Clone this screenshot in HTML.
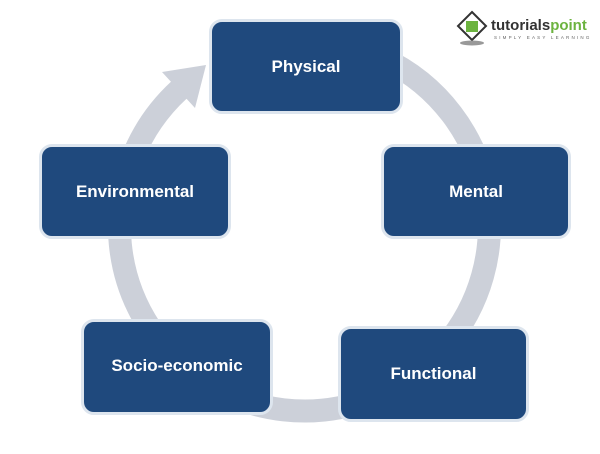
<!DOCTYPE html>
<html><head><style>
body{margin:0;background:#fff;width:600px;height:454px;overflow:hidden;position:relative;font-family:"Liberation Sans",sans-serif}
.b{position:absolute;background:#1f497d;border:3px solid #dde5ee;border-radius:13px;color:#fff;font-weight:bold;font-size:17px;display:flex;align-items:center;justify-content:center;box-sizing:border-box}
</style></head><body>
<svg width="600" height="454" style="position:absolute;left:0;top:0">
<path d="M 304 41 A 185 185 0 1 1 179 90" fill="none" stroke="#ccd0d9" stroke-width="23"/>
<polygon points="206,65 195,108 162,72" fill="#ccd0d9"/>
<g transform="translate(458,12)">
<polygon points="14,0 28,14 14,28 0,14" fill="#fff" stroke="#333" stroke-width="2"/>
<rect x="8" y="9" width="12" height="11" fill="#6cb33f"/>
<ellipse cx="14" cy="31" rx="12" ry="2.5" fill="#999"/>
<text x="33" y="18" font-family="Liberation Sans,sans-serif" font-weight="bold" font-size="15" fill="#333">tutorials<tspan fill="#6cb33f">point</tspan></text>
<text x="36" y="27" font-family="Liberation Sans,sans-serif" font-size="4.5" fill="#666" letter-spacing="2.2">SIMPLY EASY LEARNING</text>
</g>
</svg>
<div class="b" style="left:209px;top:19px;width:194px;height:95px">Physical</div>
<div class="b" style="left:39px;top:144px;width:192px;height:95px">Environmental</div>
<div class="b" style="left:381px;top:144px;width:190px;height:95px">Mental</div>
<div class="b" style="left:81px;top:319px;width:192px;height:96px;padding-bottom:2px">Socio-economic</div>
<div class="b" style="left:338px;top:326px;width:191px;height:96px">Functional</div>
</body></html>
